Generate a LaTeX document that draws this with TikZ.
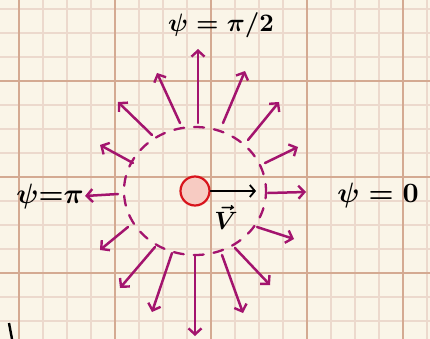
\documentclass[tikz,border=0pt]{standalone}
\usetikzlibrary{arrows.meta}
\definecolor{paper}{HTML}{FAF5E8}
\definecolor{minorline}{HTML}{ECD9CD}
\definecolor{majorline}{HTML}{D4AA92}
\definecolor{mag}{HTML}{A3146E}
\definecolor{ballred}{HTML}{D8141C}
\definecolor{ballfill}{HTML}{F7CBC2}
\begin{document}
\begin{tikzpicture}[x=1pt,y=-1pt,
  flow/.style={draw=mag,line width=2.5pt,line cap=round,line join=round,
    -{Straight Barb[length=6pt,width=13pt,line width=2.4pt]}},
  label/.style={inner sep=0pt,scale=2.8,font=\boldmath},
  vel/.style={draw=black,line width=1.8pt,line cap=round,
    -{Straight Barb[length=5pt,width=12pt,line width=1.8pt]}}]
\fill[paper] (0,0) rectangle (430,339);
\useasboundingbox (0,0) rectangle (430,339);
% grid
\foreach \i in {0,...,17} \draw[minorline,line width=1.8pt] ({19+24*\i},0) -- ++(0,339);
\foreach \i in {0,...,13} \draw[minorline,line width=1.8pt] (0,{8.7+24*\i}) -- ++(430,0);
\foreach \i in {0,...,4} \draw[majorline,line width=2.2pt] ({19+96*\i},0) -- ++(0,339);
\foreach \i in {0,...,2} \draw[majorline,line width=2.2pt] (0,{80.7+96*\i}) -- ++(430,0);
% dashed circle
\draw[mag,line width=2.3pt,line cap=round,dash pattern=on 10pt off 10pt,dash phase=3pt]
  (195,191) ellipse [x radius=71pt, y radius=64pt];
% radial arrows
\foreach \n/\sx/\sy/\ex/\ey in {
  1/198/123/198/49, 2/180/123/157/73, 3/152/135/118/102, 4/133/163/100/145,
  5/223/123/245/71, 6/248/140/279/102, 7/265/163/298/147, 8/118/194/85/196,
  9/128/227/100/250, 10/155/247/120/288, 11/172/253/152/312, 12/195/256/195/336,
  13/268/193/306/192, 14/257/227/294/239, 15/235/248/270/285, 16/222/255/243/313}{
  \coordinate (s\n) at (\sx,\sy);
  \coordinate (e\n) at (\ex,\ey);
  \draw[flow] (s\n) -- (e\n);
}
% particle
\node[circle,draw=ballred,fill=ballfill,line width=2.2pt,minimum size=29pt,inner sep=0pt] (ball) at (195,191) {};
\coordinate (vtip) at (256,191);
\draw[vel] (ball.east) -- (vtip);
\node[inner sep=0pt,scale=2.5,font=\boldmath] (vlab) at (226,217) {$\vec{V}$};
% labels
\node[label,scale=0.9] (top) at (221,25) {$\psi=\pi/2$};
\node[label] (left) at (50,196) {$\psi{=}\pi$};
\node[label] (right) at (378,195) {$\psi=0$};
% stray mark
\coordinate (m1) at (9,323);
\coordinate (m2) at (12,339);
\draw[black,line width=2.4pt] (m1) -- (m2);
\end{tikzpicture}
\end{document}
